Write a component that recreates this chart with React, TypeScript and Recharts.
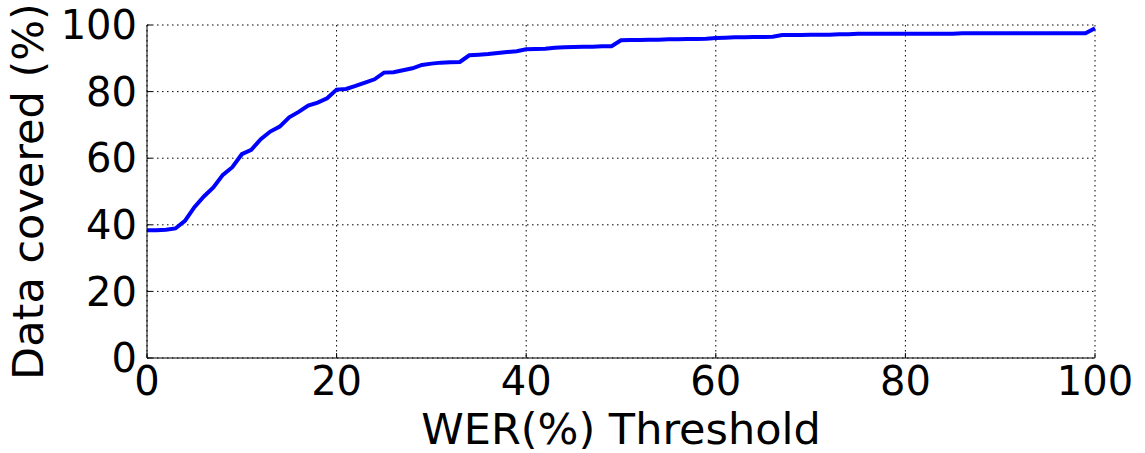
import React from 'react';
import { LineChart, Line, XAxis, YAxis, CartesianGrid, Label } from 'recharts';

// WER threshold (%) on the x axis, one reading per integer threshold
const thresholds = [
  0, 1, 2, 3, 4, 5, 6, 7, 8, 9,
  10, 11, 12, 13, 14, 15, 16, 17, 18, 19,
  20, 21, 22, 23, 24, 25, 26, 27, 28, 29,
  30, 31, 32, 33, 34, 35, 36, 37, 38, 39,
  40, 41, 42, 43, 44, 45, 46, 47, 48, 49,
  50, 51, 52, 53, 54, 55, 56, 57, 58, 59,
  60, 61, 62, 63, 64, 65, 66, 67, 68, 69,
  70, 71, 72, 73, 74, 75, 76, 77, 78, 79,
  80, 81, 82, 83, 84, 85, 86, 87, 88, 89,
  90, 91, 92, 93, 94, 95, 96, 97, 98, 99,
  100,
];

// share of data covered (%) at each threshold
const covered = [
  38.4, 38.4, 38.5, 38.9, 41.2, 45.3, 48.5, 51.2, 55.0, 57.3,
  61.2, 62.5, 65.7, 68.0, 69.5, 72.3, 73.9, 75.8, 76.7, 78.0,
  80.6, 80.8, 81.7, 82.7, 83.7, 85.7, 85.8, 86.4, 87.0, 88.0,
  88.4, 88.7, 88.8, 88.9, 90.9, 91.1, 91.3, 91.6, 91.9, 92.1,
  92.7, 92.8, 92.9, 93.2, 93.3, 93.4, 93.5, 93.5, 93.6, 93.6,
  95.4, 95.5, 95.5, 95.6, 95.6, 95.7, 95.7, 95.8, 95.8, 95.9,
  96.1, 96.2, 96.3, 96.3, 96.4, 96.4, 96.5, 97.0, 97.0, 97.0,
  97.1, 97.1, 97.1, 97.2, 97.2, 97.4, 97.4, 97.4, 97.4, 97.4,
  97.4, 97.4, 97.4, 97.4, 97.4, 97.4, 97.5, 97.5, 97.5, 97.5,
  97.5, 97.5, 97.5, 97.5, 97.5, 97.5, 97.5, 97.5, 97.5, 97.5,
  99.0,
];

const xTicks = [0, 20, 40, 60, 80, 100];
const yTicks = [0, 20, 40, 60, 80, 100];

const data = thresholds.map((t, i) => ({ wer: t, covered: covered[i] }));

const font = '"DejaVu Sans", sans-serif';
const tickStyle = { fontSize: 40, fill: '#000', fontFamily: font };
const labelStyle = { fontSize: 43, fill: '#000', fontFamily: font };

export default function App() {
  return (
    <div style={{ position: 'absolute', left: 0, top: 0 }}>
      <LineChart
        width={1145}
        height={453}
        data={data}
        margin={{ top: 25, right: 50, bottom: 0, left: 0 }}
        style={{ fontFamily: font }}
      >
        <CartesianGrid stroke="#000" strokeDasharray="1.5 3.5" strokeWidth={1} />
        <XAxis
          dataKey="wer"
          type="number"
          domain={[0, 100]}
          ticks={xTicks}
          height={95}
          tickSize={-5}
          tickMargin={14}
          tick={tickStyle}
          axisLine={{ stroke: '#000' }}
          tickLine={{ stroke: '#000' }}
        >
          <Label value="WER(%) Threshold" position="insideBottom" offset={9} style={labelStyle} />
        </XAxis>
        <XAxis
          xAxisId="top"
          dataKey="wer"
          type="number"
          orientation="top"
          domain={[0, 100]}
          ticks={xTicks}
          height={0}
          tickSize={-5}
          tick={false}
          axisLine={{ stroke: '#000' }}
          tickLine={{ stroke: '#000' }}
        />
        <YAxis
          type="number"
          domain={[0, 100]}
          ticks={yTicks}
          width={147}
          tickSize={-5}
          tickMargin={15}
          tick={tickStyle}
          axisLine={{ stroke: '#000' }}
          tickLine={{ stroke: '#000' }}
        >
          <Label
            value="Data covered (%)"
            angle={-90}
            position="insideLeft"
            offset={28}
            style={{ ...labelStyle, textAnchor: 'middle' }}
          />
        </YAxis>
        <YAxis
          yAxisId="right"
          orientation="right"
          type="number"
          domain={[0, 100]}
          ticks={yTicks}
          width={0}
          tickSize={-5}
          tick={false}
          axisLine={{ stroke: '#000' }}
          tickLine={{ stroke: '#000' }}
        />
        <Line
          type="linear"
          dataKey="covered"
          stroke="#0000ff"
          strokeWidth={4}
          dot={false}
          isAnimationActive={false}
        />
      </LineChart>
    </div>
  );
}
